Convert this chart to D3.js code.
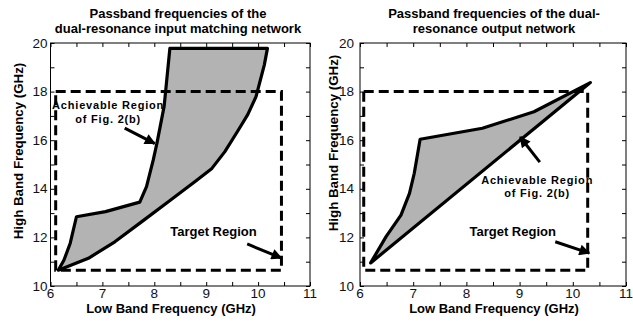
<!DOCTYPE html>
<html><head><meta charset="utf-8">
<script src="https://cdn.jsdelivr.net/npm/d3@7"></script>
<style>
html,body{margin:0;padding:0;background:#fff;}
svg{display:block;font-family:"Liberation Sans",Arial,sans-serif;}
</style></head>
<body>
<svg id="chart" width="633" height="323"></svg>
<script>
// ---------- data ----------
const xDomain = [6, 11];
const yDomain = [10, 20];
const xTickValues = [6, 6.5, 7, 7.5, 8, 8.5, 9, 9.5, 10, 10.5, 11];
const xTickLabels = [6, 7, 8, 9, 10, 11];
const yTickValues = [10, 11, 12, 13, 14, 15, 16, 17, 18, 19, 20];
const yTickLabels = [10, 12, 14, 16, 18, 20];

// Left panel: input matching network achievable region (boundary, low GHz / high GHz)
const inputRegionLow  = [6.15, 6.26, 6.38, 6.50, 7.06, 7.72, 7.85, 7.98, 8.05, 8.19, 8.30, 10.18, 10.12, 9.96, 9.80, 9.62, 9.36, 9.11, 8.78, 8.27, 7.76, 7.24, 6.73, 6.15];
const inputRegionHigh = [10.65, 11.07, 11.76, 12.85, 13.06, 13.45, 14.09, 15.19, 15.87, 17.40, 19.78, 19.78, 19.10, 17.79, 17.05, 16.42, 15.53, 14.84, 14.29, 13.47, 12.65, 11.82, 11.14, 10.65];

// Right panel: output network achievable region
const outputRegionLow  = [6.20, 6.49, 6.77, 6.93, 7.02, 7.13, 8.30, 9.27, 10.33, 6.20];
const outputRegionHigh = [10.95, 12.03, 12.92, 13.81, 14.64, 16.04, 16.49, 17.17, 18.37, 10.95];

// Target regions [xmin, xmax, ymin, ymax]
const inputTarget  = [6.10, 10.45, 10.65, 18.00];
const outputTarget = [6.07, 10.28, 10.65, 18.00];

const titlesLeft  = ["Passband frequencies of the", "dual-resonance input matching network"];
const titlesRight = ["Passband frequencies of the dual-", "resonance output network"];
const xLabel = "Low Band Frequency (GHz)";
const yLabel = "High Band Frequency (GHz)";

// annotations in data units
const leftAnno = {
  ach: {x: 7.11, y1: 17.28, y2: 16.72, arrow: [7.43, 16.50, 8.01, 15.86]},
  tgt: {x: 9.14, y: 12.06, arrow: [9.79, 11.73, 10.45, 11.15]}
};
const rightAnno = {
  ach: {x: 9.33, y1: 14.19, y2: 13.67, arrow: [9.38, 15.10, 9.01, 16.13]},
  tgt: {x: 8.87, y: 12.06, arrow: [9.67, 11.82, 10.31, 11.35]}
};

// ---------- drawing ----------
const svg = d3.select("#chart");
const defs = svg.append("defs");
defs.append("marker").attr("id", "ah")
  .attr("viewBox", "0 0 10 10").attr("refX", 9).attr("refY", 5)
  .attr("markerUnits", "userSpaceOnUse")
  .attr("markerWidth", 14).attr("markerHeight", 11).attr("orient", "auto")
  .append("path").attr("d", "M0,0 L10,5 L0,10 Z").attr("fill", "#000");

function panel(cfg) {
  const x = d3.scaleLinear().domain(xDomain).range([cfg.left, cfg.right]);
  const y = d3.scaleLinear().domain(yDomain).range([cfg.bottom, cfg.top]);
  const g = svg.append("g");

  // region polygon
  const pts = cfg.lows.map((v, i) => [x(v), y(cfg.highs[i])]);
  g.append("path").attr("d", d3.line()(pts) + "Z")
    .attr("fill", "#b3b3b3").attr("stroke", "#000").attr("stroke-width", 3.2)
    .attr("stroke-linejoin", "round");

  // target box
  const t = cfg.target;
  g.append("rect")
    .attr("x", x(t[0])).attr("y", y(t[3]))
    .attr("width", x(t[1]) - x(t[0])).attr("height", y(t[2]) - y(t[3]))
    .attr("fill", "none").attr("stroke", "#000").attr("stroke-width", 3)
    .attr("stroke-dasharray", "10,5");

  // frame
  g.append("rect").attr("x", cfg.left).attr("y", cfg.top)
    .attr("width", cfg.right - cfg.left).attr("height", cfg.bottom - cfg.top)
    .attr("fill", "none").attr("stroke", "#000").attr("stroke-width", 1);

  const fmt = d => "";
  const axes = [
    g.append("g").attr("transform", `translate(0,${cfg.bottom})`).call(d3.axisBottom(x).tickValues(xTickValues).tickSize(-4).tickFormat(fmt)),
    g.append("g").attr("transform", `translate(0,${cfg.top})`).call(d3.axisTop(x).tickValues(xTickValues).tickSize(-4).tickFormat(fmt)),
    g.append("g").attr("transform", `translate(${cfg.left},0)`).call(d3.axisLeft(y).tickValues(yTickValues).tickSize(-4).tickFormat(fmt)),
    g.append("g").attr("transform", `translate(${cfg.right},0)`).call(d3.axisRight(y).tickValues(yTickValues).tickSize(-4).tickFormat(fmt))
  ];
  axes.forEach(a => { a.select(".domain").remove(); a.selectAll("line").attr("stroke", "#000"); });

  // tick labels
  g.selectAll(".xl").data(xTickLabels).enter().append("text")
    .attr("x", d => x(d)).attr("y", cfg.bottom + 12)
    .attr("text-anchor", "middle").attr("font-size", 13.5).attr("fill", "#111").text(d => d);
  g.selectAll(".yl").data(yTickLabels).enter().append("text")
    .attr("x", cfg.left - cfg.ylabGap).attr("y", d => y(d) + 4.5)
    .attr("text-anchor", "end").attr("font-size", 13.5).attr("fill", "#111").text(d => d);

  // titles
  cfg.titles.forEach((tx, i) => g.append("text").attr("x", cfg.titleX).attr("y", 17.5 + i * 15.5)
    .attr("text-anchor", "middle").attr("font-size", 13).attr("font-weight", "bold").text(tx));
  // axis labels
  g.append("text").attr("x", cfg.xLabX).attr("y", 313).attr("text-anchor", "middle")
    .attr("font-size", 13).attr("font-weight", "bold").text(xLabel);
  g.append("text").attr("transform", `translate(${cfg.yLabX},${cfg.yLabY}) rotate(-90)`)
    .attr("text-anchor", "middle").attr("font-size", 13.3).attr("font-weight", "bold").text(yLabel);

  // annotations
  const a = cfg.anno;
  [a.ach.arrow, a.tgt.arrow].forEach(ar => {
    g.append("line").attr("x1", x(ar[0])).attr("y1", y(ar[1])).attr("x2", x(ar[2])).attr("y2", y(ar[3]))
      .attr("stroke", "#000").attr("stroke-width", 3).attr("marker-end", "url(#ah)");
  });
  g.append("text").attr("x", x(a.ach.x)).attr("y", y(a.ach.y1)).attr("text-anchor", "middle")
    .attr("font-size", 11).attr("font-weight", "bold").attr("letter-spacing", 0.8).text("Achievable Region");
  g.append("text").attr("x", x(a.ach.x)).attr("y", y(a.ach.y2)).attr("text-anchor", "middle")
    .attr("font-size", 11).attr("font-weight", "bold").attr("letter-spacing", 0.8).text("of Fig. 2(b)");
  g.append("text").attr("x", x(a.tgt.x)).attr("y", y(a.tgt.y)).attr("text-anchor", "middle")
    .attr("font-size", 13).attr("font-weight", "bold").text("Target Region");
}

panel({left: 50.5, right: 310, top: 43, bottom: 286, lows: inputRegionLow, highs: inputRegionHigh,
  target: inputTarget, titles: titlesLeft, titleX: 178, xLabX: 171, yLabX: 23, yLabY: 151,
  anno: leftAnno, ylabGap: 3});
panel({left: 360, right: 626, top: 43, bottom: 286, lows: outputRegionLow, highs: outputRegionHigh,
  target: outputTarget, titles: titlesRight, titleX: 494, xLabX: 494, yLabX: 338, yLabY: 143,
  anno: rightAnno, ylabGap: 6});
</script>
</body></html>
